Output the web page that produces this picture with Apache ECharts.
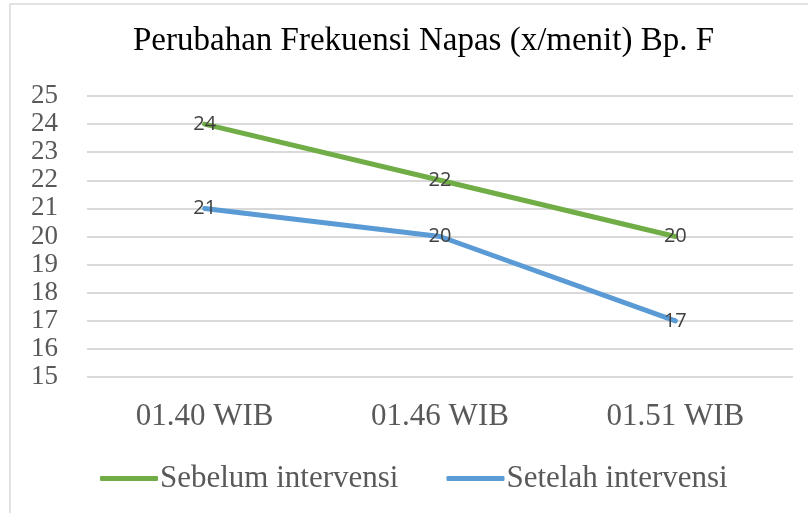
<!DOCTYPE html>
<html>
<head>
<meta charset="utf-8">
<script src="https://cdn.jsdelivr.net/npm/echarts@6/dist/echarts.min.js"></script>
<style>
  html, body { margin: 0; padding: 0; background: #fff; }
  #chart { width: 808px; height: 513px; }
</style>
</head>
<body>
<div id="chart"></div>
<script>
const categories = ['01.40 WIB', '01.46 WIB', '01.51 WIB']
const sebelum = [24, 22, 20]
const setelah = [21, 20, 17]
const seriesNames = ['Sebelum intervensi', 'Setelah intervensi']

const serif = '"Liberation Serif", "Times New Roman", serif'

const chart = echarts.init(document.getElementById('chart'))

// label on top of point, centered
const pointLabel = {
  show: true,
  position: 'inside',
  color: '#404040',
  fontFamily: '"Open Sans", sans-serif',
  fontSize: 20
}

chart.setOption({
  animation: false,
  title: {
    text: 'Perubahan Frekuensi Napas (x/menit) Bp. F',
    left: 128,
    top: 20,
    textStyle: { fontFamily: serif, fontSize: 33, fontWeight: 'normal', color: '#000' }
  },
  graphic: [
    {
      type: 'rect',
      shape: { x: 10, y: 4, width: 830, height: 540 },
      style: { fill: 'none', stroke: '#d9d9d9', lineWidth: 1.5 },
      silent: true
    }
  ],
  legend: {
    left: 95,
    top: 458,
    itemWidth: 58,
    itemHeight: 5,
    itemGap: 48,
    icon: 'roundRect',
    textStyle: { fontFamily: serif, fontSize: 31, color: '#595959', padding: [0, 0, 0, -3] },
    data: seriesNames
  },
  grid: { left: 87, right: 15, top: 96, bottom: 136 },
  xAxis: {
    type: 'category',
    data: categories,
    axisLine: { show: false },
    axisTick: { show: false },
    axisLabel: { margin: 24, fontFamily: serif, fontSize: 31, color: '#595959' }
  },
  yAxis: {
    type: 'value',
    min: 15,
    max: 25,
    interval: 1,
    axisLine: { show: false },
    axisTick: { show: false },
    axisLabel: {
      margin: 29,
      fontFamily: serif,
      fontSize: 27,
      color: '#595959',
      showMinLabel: true,
      showMaxLabel: true
    },
    splitLine: { lineStyle: { color: '#d9d9d9', width: 2 } }
  },
  series: [
    {
      name: seriesNames[0],
      type: 'line',
      data: sebelum,
      symbol: 'circle',
      symbolSize: 0,
      itemStyle: { color: '#70AD47' },
      lineStyle: { color: '#70AD47', width: 5, cap: 'round' },
      label: pointLabel
    },
    {
      name: seriesNames[1],
      type: 'line',
      data: setelah,
      symbol: 'circle',
      symbolSize: 0,
      itemStyle: { color: '#5B9BD5' },
      lineStyle: { color: '#5B9BD5', width: 5, cap: 'round' },
      label: pointLabel
    }
  ]
})
</script>
</body>
</html>
